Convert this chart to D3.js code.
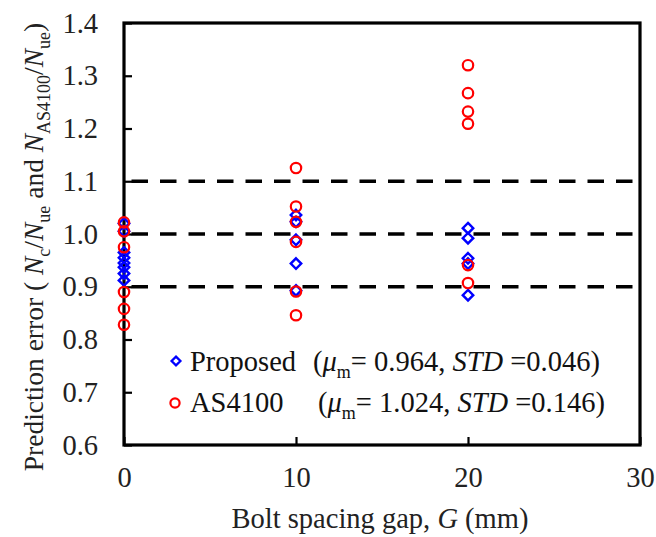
<!DOCTYPE html>
<html><head><meta charset="utf-8">
<script src="https://cdn.jsdelivr.net/npm/d3@7"></script>
<style>
body{margin:0;background:#fff}
svg{display:block}
svg text{font-family:"Liberation Serif","Times New Roman",Tinos,serif;}
</style>
</head><body>
<script>
// ---- data ----
const proposedG = [0,0,0,0,0,0,0,0, 10,10,10,10,10, 20,20,20,20,20];
const proposedRatio = [1.020,1.005,0.965,0.955,0.945,0.937,0.925,0.912,
                       1.036,1.023,0.989,0.944,0.893,
                       1.011,0.992,0.954,0.944,0.884];
const as4100G = [0,0,0,0,0,0, 10,10,10,10,10,10, 20,20,20,20,20,20];
const as4100Ratio = [1.022,1.005,0.975,0.890,0.858,0.828,
                     1.125,1.052,1.023,0.985,0.891,0.846,
                     1.320,1.267,1.232,1.209,0.941,0.907];
const refLines = [1.1, 1.0, 0.9];
const yTicks = [0.6,0.7,0.8,0.9,1.0,1.1,1.2,1.3,1.4];
const xTicks = [0,10,20,30];
const legendNames = ["Proposed", "AS4100"];
const legendMeans = ["0.964", "1.024"];
const legendStds = ["0.046", "0.146"];

const W = 656, H = 537;
const FS = 28.5;
const svg = d3.select("body").append("svg").attr("width", W).attr("height", H);

const x = d3.scaleLinear().domain([0,30]).range([124,640]);
const y = d3.scaleLinear().domain([0.6,1.4]).range([445,23]);

// reference dashed lines
svg.append("g").selectAll("line").data(refLines).join("line")
  .attr("x1", x(0)).attr("x2", x(30))
  .attr("y1", d => y(d)).attr("y2", d => y(d))
  .attr("stroke", "#000").attr("stroke-width", 3.3)
  .attr("stroke-dasharray", "16.5 12").attr("stroke-dashoffset", 21);

// axes
const yAxis = svg.append("g").attr("transform", `translate(${x(0)},0)`)
  .call(d3.axisLeft(y).tickValues(yTicks).tickSize(-8).tickPadding(26).tickFormat(d3.format(".1f")));
const xAxis = svg.append("g").attr("transform", `translate(0,${y(0.6)})`)
  .call(d3.axisBottom(x).tickValues(xTicks).tickSize(-8).tickPadding(22).tickFormat(d3.format("d")));
[yAxis, xAxis].forEach(g => {
  g.select(".domain").remove();
  g.selectAll(".tick line").attr("stroke", "#000").attr("stroke-width", 2.2);
  g.selectAll(".tick text").attr("fill", "#222").style("font-size", FS + "px");
});

// frame
svg.append("rect").attr("x", x(0)).attr("y", y(1.4))
  .attr("width", x(30) - x(0)).attr("height", y(0.6) - y(1.4))
  .attr("fill", "none").attr("stroke", "#000").attr("stroke-width", 3.2);

// markers
const diamond = d3.symbol().type(d3.symbolDiamond2).size(70);
svg.append("g").selectAll("path").data(proposedG.map((g,i)=>[g, proposedRatio[i]])).join("path")
  .attr("d", diamond)
  .attr("transform", d => `translate(${x(d[0])},${y(d[1])})`)
  .attr("fill", "none").attr("stroke", "#0000ff").attr("stroke-width", 2.4);
svg.append("g").selectAll("circle").data(as4100G.map((g,i)=>[g, as4100Ratio[i]])).join("circle")
  .attr("cx", d => x(d[0])).attr("cy", d => y(d[1])).attr("r", 5.2)
  .attr("fill", "none").attr("stroke", "#ff0000").attr("stroke-width", 2.2);

// legend
const lg = svg.append("g").style("font-size", FS + "px").attr("fill", "#111");
const legRows = [{ym:361, base:371, tx:190, px:313}, {ym:403, base:412, tx:190, px:318}];
lg.append("path").attr("d", d3.symbol().type(d3.symbolDiamond2).size(50))
  .attr("transform", `translate(176,${legRows[0].ym})`)
  .attr("fill", "none").attr("stroke", "#0000ff").attr("stroke-width", 2.3);
lg.append("circle").attr("cx", 175).attr("cy", legRows[1].ym).attr("r", 4.6)
  .attr("fill", "none").attr("stroke", "#ff0000").attr("stroke-width", 2.2);
legendNames.forEach((name, i) => {
  const r = legRows[i];
  lg.append("text").attr("x", r.tx).attr("y", r.base).text(name);
  const t = lg.append("text").attr("x", r.px).attr("y", r.base);
  t.append("tspan").text("(");
  t.append("tspan").style("font-style", "italic").text("μ");
  t.append("tspan").attr("dy", 7).style("font-size", "18px").text("m");
  t.append("tspan").attr("dy", -7).text("= " + legendMeans[i] + ", ");
  t.append("tspan").style("font-style", "italic").text("STD");
  t.append("tspan").text(" =" + legendStds[i] + ")");
});

// axis titles
const xt = svg.append("text").attr("x", 380).attr("y", 528)
  .attr("text-anchor", "middle").style("font-size", FS + "px").attr("fill", "#222");
xt.append("tspan").text("Bolt spacing gap, ");
xt.append("tspan").style("font-style", "italic").text("G");
xt.append("tspan").text(" (mm)");

const yt = svg.append("text").attr("transform", "translate(43,247) rotate(-90)")
  .attr("text-anchor", "middle").style("font-size", "27.5px").attr("fill", "#222");
const SUB = "18px", SDY = 7;
yt.append("tspan").text("Prediction error ( ");
yt.append("tspan").style("font-style", "italic").text("N");
yt.append("tspan").attr("dy", SDY).style("font-size", SUB).text("c");
yt.append("tspan").attr("dy", -SDY).text("/");
yt.append("tspan").style("font-style", "italic").text("N");
yt.append("tspan").attr("dy", SDY).style("font-size", SUB).text("ue");
yt.append("tspan").attr("dy", -SDY).text(" and ");
yt.append("tspan").style("font-style", "italic").text("N");
yt.append("tspan").attr("dy", SDY).style("font-size", SUB).text("AS4100");
yt.append("tspan").attr("dy", -SDY).text("/");
yt.append("tspan").style("font-style", "italic").text("N");
yt.append("tspan").attr("dy", SDY).style("font-size", SUB).text("ue");
yt.append("tspan").attr("dy", -SDY).text(")");
</script>
</body></html>
